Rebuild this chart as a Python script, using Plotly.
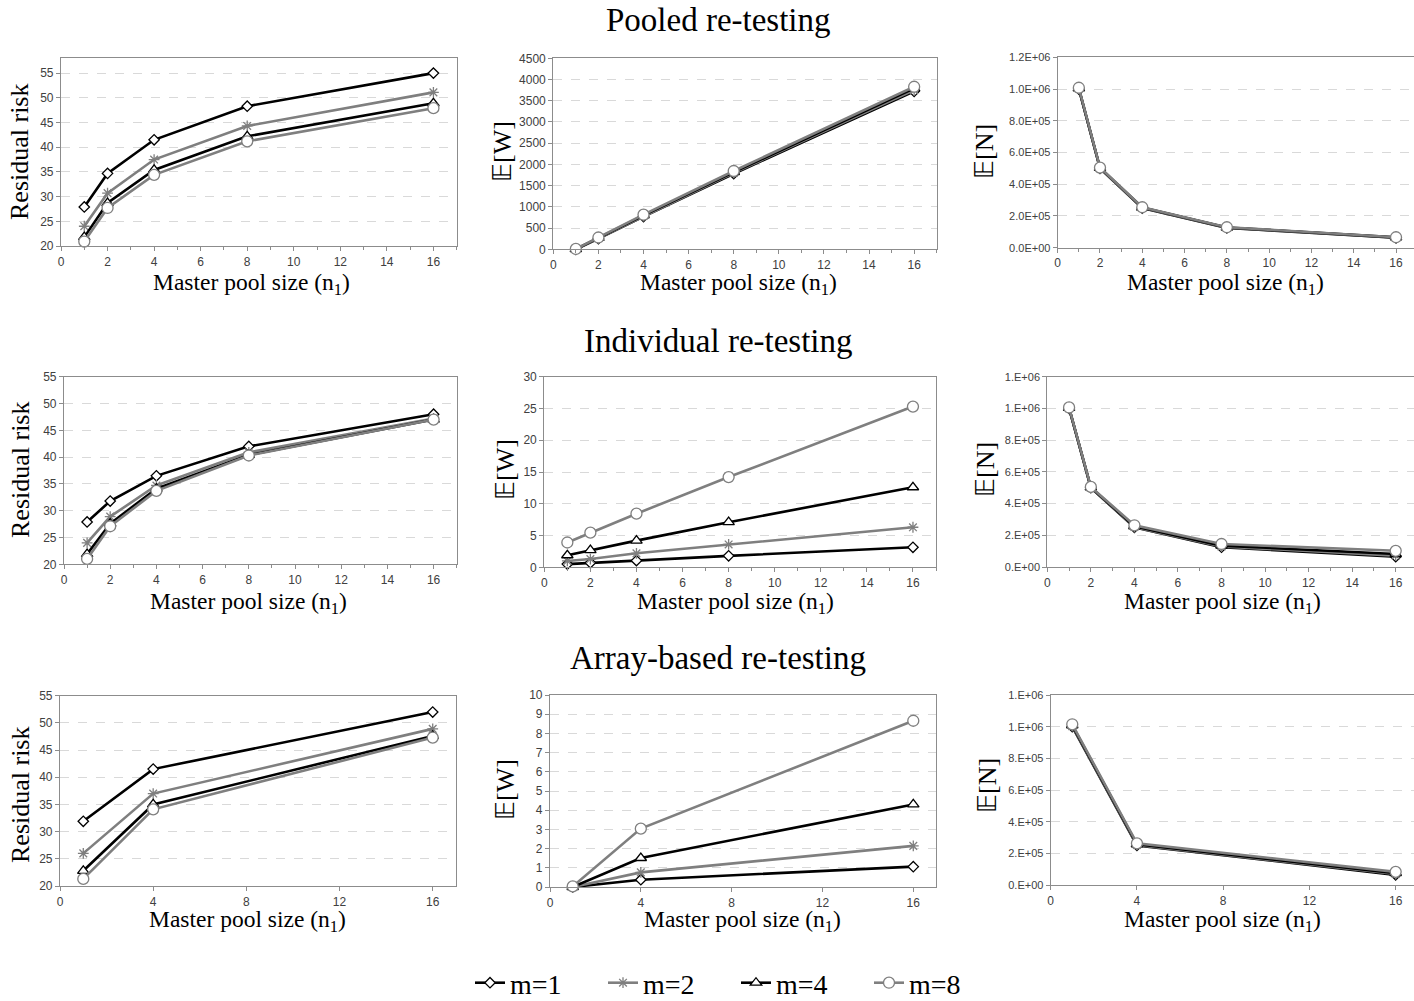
import plotly.graph_objects as go

# ---------------- data ----------------
x_full = [1, 2, 4, 8, 16]
x_array = [1, 4, 16]
series_names = ["m=1", "m=2", "m=4", "m=8"]

# Pooled re-testing
pooled_rr_m1 = [27.9, 34.7, 41.5, 48.3, 55.0]
pooled_rr_m2 = [24.0, 30.7, 37.5, 44.3, 51.1]
pooled_rr_m4 = [21.8, 28.7, 35.4, 42.2, 48.9]
pooled_rr_m8 = [20.9, 27.7, 34.4, 41.2, 47.9]

pooled_ew_m1 = [0, 250, 770, 1780, 3720]
pooled_ew_m2 = [2, 260, 785, 1800, 3750]
pooled_ew_m4 = [4, 268, 800, 1820, 3790]
pooled_ew_m8 = [8, 278, 815, 1845, 3830]

pooled_en_m1 = [1.000e6, 5.00e5, 2.50e5, 1.25e5, 6.25e4]
pooled_en_m2 = [1.002e6, 5.01e5, 2.51e5, 1.26e5, 6.35e4]
pooled_en_m4 = [1.004e6, 5.03e5, 2.53e5, 1.27e5, 6.5e4]
pooled_en_m8 = [1.008e6, 5.05e5, 2.55e5, 1.29e5, 6.6e4]

# Individual re-testing
indiv_rr_m1 = [27.9, 31.8, 36.5, 42.0, 48.0]
indiv_rr_m2 = [24.0, 28.9, 34.7, 40.9, 47.2]
indiv_rr_m4 = [21.9, 27.6, 34.1, 40.4, 47.0]
indiv_rr_m8 = [21.0, 27.1, 33.7, 40.3, 47.0]

indiv_ew_m1 = [0.5, 0.7, 1.05, 1.8, 3.15]
indiv_ew_m2 = [1.0, 1.3, 2.2, 3.6, 6.3]
indiv_ew_m4 = [1.9, 2.7, 4.2, 7.1, 12.6]
indiv_ew_m8 = [3.9, 5.45, 8.44, 14.2, 25.3]

indiv_en_m1 = [1.000e6, 5.00e5, 2.50e5, 1.25e5, 6.5e4]
indiv_en_m2 = [1.001e6, 5.01e5, 2.52e5, 1.29e5, 7.2e4]
indiv_en_m4 = [1.003e6, 5.02e5, 2.56e5, 1.35e5, 8.2e4]
indiv_en_m8 = [1.006e6, 5.05e5, 2.63e5, 1.45e5, 1.02e5]

# Array-based re-testing
array_rr_m1 = [31.9, 41.5, 52.0]
array_rr_m2 = [26.0, 37.0, 48.9]
array_rr_m4 = [22.8, 35.0, 47.6]
array_rr_m8 = [21.3, 34.1, 47.3]

array_ew_m1 = [0.0, 0.38, 1.06]
array_ew_m2 = [0.0, 0.76, 2.14]
array_ew_m4 = [0.0, 1.51, 4.30]
array_ew_m8 = [0.03, 3.04, 8.66]

array_en_m1 = [1.000e6, 2.50e5, 6.4e4]
array_en_m2 = [1.003e6, 2.53e5, 6.9e4]
array_en_m4 = [1.008e6, 2.57e5, 7.5e4]
array_en_m8 = [1.015e6, 2.63e5, 8.3e4]

row_titles = ["Pooled re-testing", "Individual re-testing", "Array-based re-testing"]
x_title = "Master pool size (n<sub>1</sub>)"
y_titles = ["Residual risk", "𝔼[W]", "𝔼[N]"]

en_ticks = [0, 2e5, 4e5, 6e5, 8e5, 1e6, 1.2e6]
en_labels_a = ["0.0E+00", "2.0E+05", "4.0E+05", "6.0E+05", "8.0E+05", "1.0E+06", "1.2E+06"]
en_labels_b = ["0.E+00", "2.E+05", "4.E+05", "6.E+05", "8.E+05", "1.E+06", "1.E+06"]

# ---------------- styling ----------------
W, H = 1414, 1001
BLACK = "#000000"
GRAY = "#7f7f7f"
FRAME = "#8c8c8c"
GRID = "#d9d9d9"
TICKC = "#404040"
SERIF = "Liberation Serif, Times New Roman, serif"
SANS = "Liberation Sans, Arial, sans-serif"

styles = [
    dict(color=BLACK, symbol="diamond", size=8, fill="white", mline=BLACK),
    dict(color=GRAY, symbol="asterisk-open", size=9, fill=GRAY, mline=GRAY),
    dict(color=BLACK, symbol="triangle-up", size=10, fill="white", mline=BLACK),
    dict(color=GRAY, symbol="circle", size=11, fill="white", mline=GRAY),
]

panels = [
    (x_full, [pooled_rr_m1, pooled_rr_m2, pooled_rr_m4, pooled_rr_m8], (61, 456.7, 58.3, 246), [0, 17], [20, 58],
     list(range(20, 56, 5)), None, 2, True, False),
    (x_full, [pooled_ew_m1, pooled_ew_m2, pooled_ew_m4, pooled_ew_m8], (553.3, 936.7, 58.3, 249.3), [0, 17], [0, 4500],
     list(range(0, 4501, 500)), None, 2, True, False),
    (x_full, [pooled_en_m1, pooled_en_m2, pooled_en_m4, pooled_en_m8], (1057.7, 1414, 57.3, 247.7), [0, 16.85], [0, 1.2e6],
     en_ticks, en_labels_a, 2, True, True),
    (x_full, [indiv_rr_m1, indiv_rr_m2, indiv_rr_m4, indiv_rr_m8], (64, 456.7, 376.7, 564.3), [0, 17], [20, 55],
     list(range(20, 56, 5)), None, 2, True, False),
    (x_full, [indiv_ew_m1, indiv_ew_m2, indiv_ew_m4, indiv_ew_m8], (544.3, 936, 376.7, 567.3), [0, 17], [0, 30],
     list(range(0, 31, 5)), None, 2, True, False),
    (x_full, [indiv_en_m1, indiv_en_m2, indiv_en_m4, indiv_en_m8], (1047.3, 1414, 376.7, 567), [0, 16.84], [0, 1.2e6],
     en_ticks, en_labels_b, 2, True, True),
    (x_array, [array_rr_m1, array_rr_m2, array_rr_m4, array_rr_m8], (60, 456, 695.7, 886), [0, 17], [20, 55],
     list(range(20, 56, 5)), None, 4, False, False),
    (x_array, [array_ew_m1, array_ew_m2, array_ew_m4, array_ew_m8], (550, 936, 695, 887), [0, 17], [0, 10],
     list(range(0, 11, 1)), None, 4, False, False),
    (x_array, [array_en_m1, array_en_m2, array_en_m4, array_en_m8], (1050.7, 1414, 695, 885), [0, 16.85], [0, 1.2e6],
     en_ticks, en_labels_b, 4, False, True),
]

fig = go.Figure()
layout = dict(
    width=W, height=H, margin=dict(l=0, r=0, t=0, b=0, pad=0, autoexpand=False),
    paper_bgcolor="white", plot_bgcolor="white",
    showlegend=True,
)

for i, (xd, sers, box, xr, yr, ytv, ytt, xdt, minor, right) in enumerate(panels):
    k = i + 1
    xa = "x" if k == 1 else f"x{k}"
    ya = "y" if k == 1 else f"y{k}"
    x0, x1, y0, y1 = box
    for j, ys in enumerate(sers):
        st = styles[j]
        fig.add_trace(go.Scatter(
            x=xd, y=ys, xaxis=xa, yaxis=ya, mode="lines+markers",
            name=series_names[j], legendgroup=series_names[j], showlegend=(i == 0),
            line=dict(color=st["color"], width=2.6),
            marker=dict(symbol=st["symbol"], size=st["size"], color=st["fill"],
                        line=dict(color=st["mline"], width=1.3)),
            cliponaxis=False,
        ))
    xkey = "xaxis" if k == 1 else f"xaxis{k}"
    ykey = "yaxis" if k == 1 else f"yaxis{k}"
    xaxis = dict(
        domain=[x0 / W, min(x1 / W, 1.0)], anchor=ya, range=xr, automargin=False,
        tickmode="linear", tick0=0, dtick=xdt,
        showgrid=False, zeroline=False,
        showline=True, linecolor=FRAME, linewidth=1.2, mirror=True,
        ticks="outside", ticklen=4, tickcolor=FRAME,
        tickfont=dict(family=SANS, size=12, color=TICKC),
    )
    if minor:
        xaxis["minor"] = dict(dtick=1, tick0=0, ticks="outside", ticklen=3, tickcolor=FRAME, showgrid=False)
    yaxis = dict(
        domain=[1 - y1 / H, 1 - y0 / H], anchor=xa, range=yr, automargin=False,
        tickmode="array", tickvals=ytv,
        showgrid=True, gridcolor=GRID, griddash="dash", gridwidth=1,
        zeroline=False,
        showline=True, linecolor=FRAME, linewidth=1.2, mirror=(not right),
        ticks="outside", ticklen=4, tickcolor=FRAME,
        tickfont=dict(family=SANS, size=12 if not right else 11, color=TICKC),
    )
    if ytt is not None:
        yaxis["ticktext"] = ytt
    layout[xkey] = xaxis
    layout[ykey] = yaxis

annotations = []
for r, (t, yy) in enumerate(zip(row_titles, [20, 341, 658])):
    annotations.append(dict(text=t, x=718 / W, y=1 - yy / H, xref="paper", yref="paper",
                            showarrow=False, xanchor="center", yanchor="middle",
                            font=dict(family=SERIF, size=33, color="black")))
xt_pos = [(251, 284), (738, 284), (1225, 284),
          (248, 603), (735, 603), (1222, 603),
          (247, 921), (742, 921), (1222, 921)]
for (xx, yy) in xt_pos:
    annotations.append(dict(text=x_title, x=xx / W, y=1 - yy / H, xref="paper", yref="paper",
                            showarrow=False, xanchor="center", yanchor="middle",
                            font=dict(family=SERIF, size=23.5, color="black")))
yt_pos = [(20, 152, 0), (503, 152, 1), (985, 152, 2),
          (20, 470, 0), (505, 470, 1), (985, 470, 2),
          (20, 795, 0), (505, 790, 1), (987, 785, 2)]
for (xx, yy, t) in yt_pos:
    annotations.append(dict(text=y_titles[t], x=xx / W, y=1 - yy / H, xref="paper", yref="paper",
                            showarrow=False, xanchor="center", yanchor="middle", textangle=-90,
                            font=dict(family=SERIF, size=26, color="black")))

layout["annotations"] = annotations
layout["legend"] = dict(orientation="h", x=736 / W, xanchor="center", y=1 - 983 / H, yanchor="middle",
                        font=dict(family=SERIF, size=28, color="black"), bgcolor="rgba(0,0,0,0)",
                        itemwidth=30, tracegroupgap=0, entrywidth=88, entrywidthmode="pixels")
fig.update_layout(**layout)

fig.write_html("out.html")
